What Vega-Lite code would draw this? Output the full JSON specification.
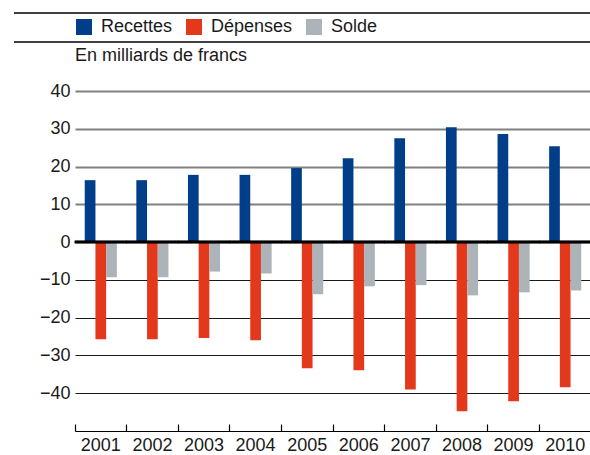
{
  "$schema": "https://vega.github.io/schema/vega-lite/v6.json",
  "background": "white",
  "padding": {"left": 13, "top": 12, "right": 0, "bottom": 0},
  "autosize": {"type": "pad"},
  "config": {
    "view": {"stroke": null},
    "font": "Liberation Sans",
    "axis": {"labelFont": "Liberation Sans", "labelFontSize": 18, "labelColor": "#1a1a1a"},
    "title": {"font": "Liberation Sans", "fontSize": 18, "fontWeight": "normal", "color": "#1a1a1a"}
  },
  "datasets": {
    "budget": [
      {"year": "2001", "series": "Recettes", "value": 16.4},
      {"year": "2001", "series": "Dépenses", "value": -25.7},
      {"year": "2001", "series": "Solde", "value": -9.3},
      {"year": "2002", "series": "Recettes", "value": 16.4},
      {"year": "2002", "series": "Dépenses", "value": -25.7},
      {"year": "2002", "series": "Solde", "value": -9.3},
      {"year": "2003", "series": "Recettes", "value": 17.8},
      {"year": "2003", "series": "Dépenses", "value": -25.4},
      {"year": "2003", "series": "Solde", "value": -7.8},
      {"year": "2004", "series": "Recettes", "value": 17.8},
      {"year": "2004", "series": "Dépenses", "value": -26.0},
      {"year": "2004", "series": "Solde", "value": -8.3},
      {"year": "2005", "series": "Recettes", "value": 19.6},
      {"year": "2005", "series": "Dépenses", "value": -33.4},
      {"year": "2005", "series": "Solde", "value": -13.8},
      {"year": "2006", "series": "Recettes", "value": 22.2},
      {"year": "2006", "series": "Dépenses", "value": -33.9},
      {"year": "2006", "series": "Solde", "value": -11.7},
      {"year": "2007", "series": "Recettes", "value": 27.5},
      {"year": "2007", "series": "Dépenses", "value": -39.0},
      {"year": "2007", "series": "Solde", "value": -11.4},
      {"year": "2008", "series": "Recettes", "value": 30.4},
      {"year": "2008", "series": "Dépenses", "value": -44.8},
      {"year": "2008", "series": "Solde", "value": -14.1},
      {"year": "2009", "series": "Recettes", "value": 28.6},
      {"year": "2009", "series": "Dépenses", "value": -42.1},
      {"year": "2009", "series": "Solde", "value": -13.3},
      {"year": "2010", "series": "Recettes", "value": 25.4},
      {"year": "2010", "series": "Dépenses", "value": -38.4},
      {"year": "2010", "series": "Solde", "value": -12.8}
    ]
  },
  "concat": [
    {
      "width": 577,
      "height": 29,
      "view": {"stroke": "#000000", "strokeWidth": 1.5, "strokeDash": [577, 29, 577, 29]},
      "data": {"values": [{"k": 1}]},
      "mark": {"type": "rect", "opacity": 0},
      "encoding": {}
    },
    {
      "width": 577,
      "height": 340,
      "data": {"name": "budget"},
      "title": {"text": "En milliards de francs", "anchor": "start", "frame": "group", "offset": 16.7, "dx": 61},
      "layer": [
        {
          "mark": {"type": "bar"},
          "encoding": {
            "x": {
              "field": "year", "type": "nominal",
              "scale": {"paddingInner": 0, "paddingOuter": 0, "range": [61, 577]},
              "axis": {
                "title": null, "bandPosition": 0, "labelAngle": 0,
                "domainColor": "#000000", "domainWidth": 1.2,
                "tickColor": "#000000", "tickSize": -7, "tickWidth": 1.2,
                "labelPadding": 12, "grid": false
              }
            },
            "xOffset": {
              "field": "series", "type": "nominal",
              "sort": ["Recettes", "Dépenses", "Solde"],
              "scale": {"paddingInner": 0, "paddingOuter": 0.91}
            },
            "y": {
              "field": "value", "type": "quantitative",
              "scale": {"domain": [-50, 40], "nice": false},
              "axis": {
                "title": null, "values": [-40, -30, -20, -10, 0, 10, 20, 30, 40],
                "domain": false, "ticks": false, "labelPadding": 5, "offset": -61,
                "labelExpr": "replace(datum.label, '-', '–')",
                "grid": true,
                "gridColor": {"condition": {"test": "datum.value > 0", "value": "#808080"}, "value": "#1a1a1a"},
                "gridWidth": {"condition": {"test": "datum.value > 0", "value": 2}, "value": 1}
              }
            },
            "color": {
              "field": "series", "type": "nominal",
              "sort": ["Recettes", "Dépenses", "Solde"],
              "scale": {"domain": ["Recettes", "Dépenses", "Solde"], "range": ["#003E8A", "#E3381B", "#ACB4B9"]},
              "legend": {
                "title": null, "orient": "none", "direction": "horizontal",
                "legendX": 61, "legendY": 5,
                "symbolType": "square", "symbolSize": 256, "symbolStrokeWidth": 0,
                "labelFont": "Liberation Sans", "labelFontSize": 18, "labelColor": "#1a1a1a",
                "labelOffset": 8, "columnPadding": 12, "padding": 0
              }
            }
          }
        },
        {
          "mark": {"type": "tick", "color": "#000000", "thickness": 2.5, "size": 52, "opacity": 1},
          "encoding": {
            "x": {"field": "year", "type": "nominal"},
            "y": {"datum": 0}
          }
        }
      ]
    }
  ],
  "columns": 1,
  "spacing": 4
}
